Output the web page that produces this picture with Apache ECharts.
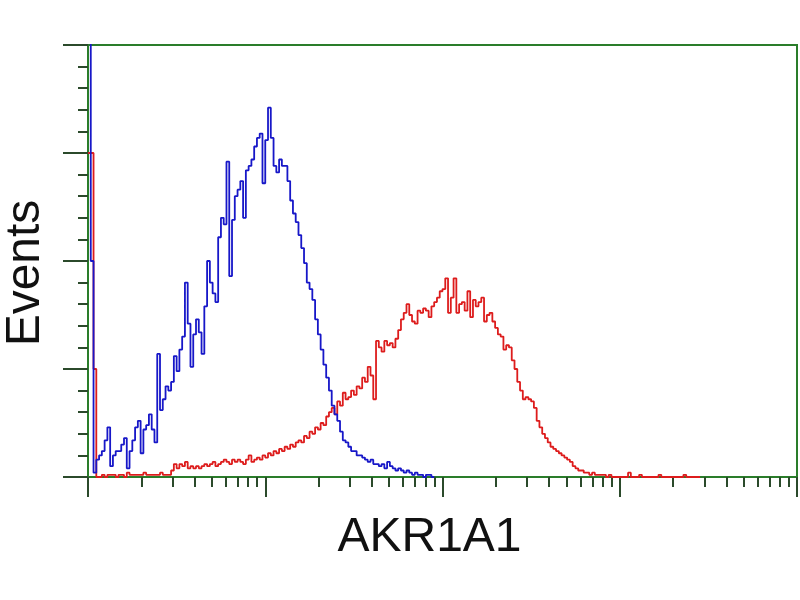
<!DOCTYPE html>
<html><head><meta charset="utf-8">
<script src="https://cdn.jsdelivr.net/npm/echarts@6/dist/echarts.min.js"></script>
<style>html,body{margin:0;padding:0;background:#fff}#c{width:800px;height:600px}</style>
</head><body><div id="c"></div>
<script>
// Axis titles
const xTitle = 'AKR1A1';
const yTitle = 'Events';
// X axis: 256 channels over 4 log decades (10^0 .. 10^4)
const channelCount = 256;
const decadeChannels = [0, 64, 128, 192, 256];
// Y axis major ticks
const yMin = 0, yMax = 200, yStep = 50;

// Histogram counts per channel (bin start = index)
const blueCounts = [400,100,2,8,10,12,17,23,5,10,12,12,15,18,4,12,17,23,26,11,
  22,24,29,22,16,57,31,36,42,40,44,56,49,59,65,90,71,51,66,73,
  67,57,79,100,90,85,81,111,120,117,146,93,119,130,133,137,120,142,144,147,
  153,157,159,136,156,171,157,144,141,147,144,144,137,128,122,118,112,106,99,90,
  87,82,73,66,59,52,46,40,33,29,26,21,17,16,14,12,12,10,10,9,
  8,7,8,6,6,5,6,4,7,5,4,3,4,3,2,3,2,1,2,1,
  1,0,1,1,0];
const redCounts = [150,150,50,0,0,1,0,1,1,1,0,1,1,0,2,1,1,1,1,1,
  2,1,1,1,1,1,2,1,1,1,3,6,4,6,5,7,4,5,4,5,
  4,5,6,5,6,7,5,6,7,8,7,6,8,7,8,7,6,8,10,7,
  8,9,8,10,9,11,10,12,11,13,12,14,13,15,14,16,17,16,19,18,
  21,20,23,22,25,24,28,30,32,29,35,33,39,36,37,40,38,42,41,46,
  44,51,47,36,63,60,58,63,61,62,60,64,68,73,76,80,75,72,71,77,
  76,78,77,74,79,81,83,86,87,92,76,83,92,76,80,81,77,86,74,82,
  79,81,83,72,75,76,72,69,66,65,59,61,60,54,50,44,40,36,37,36,
  35,32,26,23,20,18,16,14,13,12,11,10,9,8,7,5,4,3,3,2,
  2,1,2,1,1,1,1,0,1,0,0,0,0,0,0,2,0,0,0,1,
  0,0,0,0,0,0,1,0,0,0,0,0,0,0,0,1,0,0,0,0,0];

const frameColor = '#2a7d2a';
const tickColor = '#2b4a2b';
const blueColor = '#1717c8';
const redColor = '#dd1c1c';

const toSteps = arr => { const d = arr.map((v, i) => [i, v]); d.push([arr.length, arr[arr.length - 1]]); return d; };

const majorX = decadeChannels.slice();
const minorX = [];
for (let d = 0; d < decadeChannels.length - 1; d++) {
  const span = decadeChannels[d + 1] - decadeChannels[d];
  for (let k = 2; k <= 9; k++) minorX.push(decadeChannels[d] + span * Math.log10(k));
}

const chart = echarts.init(document.getElementById('c'), null, {renderer: 'canvas'});
chart.setOption({
  animation: false,
  backgroundColor: '#ffffff',
  grid: {left: 88, right: 3, top: 45, bottom: 123, outerBoundsMode: 'none', containLabel: false,
         show: true, borderColor: frameColor, borderWidth: 2, backgroundColor: 'transparent'},
  xAxis: [
    {type: 'value', min: 0, max: channelCount, position: 'bottom',
     axisLine: {show: true, onZero: false, lineStyle: {color: frameColor, width: 2}},
     axisTick: {show: true, customValues: majorX, length: 20, lineStyle: {color: tickColor, width: 2}},
     axisLabel: {show: false}, splitLine: {show: false},
     name: xTitle, nameLocation: 'middle', nameGap: 37,
     nameTextStyle: {fontSize: 48, color: '#111', fontFamily: 'Liberation Sans, Arial, sans-serif', padding: [0, 26, 0, 0]}},
    {type: 'value', min: 0, max: channelCount, position: 'bottom',
     axisLine: {show: false},
     axisTick: {show: true, customValues: minorX, length: 10, lineStyle: {color: tickColor, width: 2}},
     axisLabel: {show: false}, splitLine: {show: false}}
  ],
  yAxis: {type: 'value', min: yMin, max: yMax, interval: yStep,
    axisLine: {show: true, onZero: false, lineStyle: {color: frameColor, width: 2}},
    axisTick: {show: true, length: 25, lineStyle: {color: tickColor, width: 2}},
    minorTick: {show: true, splitNumber: 5, length: 10, lineStyle: {color: tickColor, width: 2}},
    axisLabel: {show: false}, splitLine: {show: false}, minorSplitLine: {show: false},
    name: yTitle, nameLocation: 'middle', nameGap: 38,
    nameTextStyle: {fontSize: 48, color: '#111', fontFamily: 'Liberation Sans, Arial, sans-serif', padding: [0, 24, 0, 0]}},
  series: [
    {type: 'line', name: 'AKR1A1', step: 'end', symbol: 'none', clip: true,
     data: toSteps(redCounts), lineStyle: {color: redColor, width: 1.8}, z: 3},
    {type: 'line', name: 'Control', step: 'end', symbol: 'none', clip: true,
     data: toSteps(blueCounts), lineStyle: {color: blueColor, width: 1.8}, z: 4}
  ]
});
</script>
</body></html>
